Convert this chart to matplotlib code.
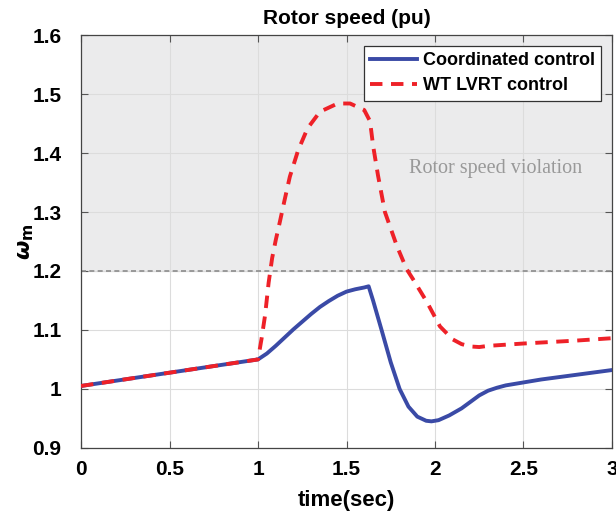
import numpy as np
import matplotlib
matplotlib.use("Agg")
import matplotlib.pyplot as plt

# values
t_coord = [0.0, 1.0, 1.05, 1.1, 1.15, 1.2, 1.25, 1.3, 1.35, 1.4, 1.45, 1.5,
           1.55, 1.6, 1.625, 1.65, 1.7, 1.75, 1.8, 1.85, 1.9, 1.95, 1.98,
           2.02, 2.08, 2.15, 2.2, 2.25, 2.3, 2.35, 2.4, 2.5, 2.6, 2.8, 3.0]
w_coord = [1.005, 1.050, 1.060, 1.073, 1.087, 1.101, 1.114, 1.127, 1.139, 1.149,
           1.158, 1.165, 1.169, 1.172, 1.174, 1.150, 1.098, 1.045, 1.000, 0.970,
           0.953, 0.946, 0.945, 0.947, 0.955, 0.967, 0.978, 0.989, 0.997, 1.002,
           1.006, 1.011, 1.016, 1.024, 1.032]

t_lvrt = [0.0, 1.0, 1.02, 1.04, 1.06, 1.08, 1.1, 1.124, 1.15, 1.18, 1.226,
          1.28, 1.35, 1.45, 1.52, 1.6, 1.633, 1.65, 1.678, 1.717, 1.785, 1.84,
          1.876, 1.955, 2.028, 2.1, 2.15, 2.2, 2.25, 2.3, 2.5, 2.8, 3.0]
w_lvrt = [1.005, 1.050, 1.085, 1.125, 1.180, 1.222, 1.252, 1.284, 1.320, 1.360,
          1.404, 1.442, 1.470, 1.484, 1.484, 1.473, 1.454, 1.413, 1.362, 1.300,
          1.242, 1.203, 1.186, 1.147, 1.106, 1.084, 1.076, 1.072, 1.071, 1.073,
          1.077, 1.082, 1.086]

speed_limit = 1.2
x_ticks = [0, 0.5, 1, 1.5, 2, 2.5, 3]
y_ticks = [0.9, 1.0, 1.1, 1.2, 1.3, 1.4, 1.5, 1.6]
x_labels = ["0", "0.5", "1", "1.5", "2", "2.5", "3"]
y_labels = ["0.9", "1", "1.1", "1.2", "1.3", "1.4", "1.5", "1.6"]

plt.rcParams['font.family'] = ['Liberation Sans', 'DejaVu Sans']
plt.rcParams['font.weight'] = 'bold'

fig = plt.figure(figsize=(6.16, 5.16), dpi=100)
ax = fig.add_axes([0.1315, 0.132, 0.862, 0.800])

ax.axhspan(speed_limit, 1.6, color='#ebebec', zorder=0)
ax.axhline(speed_limit, color='#8c8c8c', ls=(0, (3, 2)), lw=1.2, zorder=1)

ax.plot(t_coord, w_coord, color='#3a4aa6', lw=2.8, label='Coordinated control', zorder=3)
ax.plot(t_lvrt, w_lvrt, color='#ee2128', lw=2.8, ls=(0, (3.2, 2.2)),
        label='WT LVRT control', zorder=3)

ax.text(2.34, 1.374, 'Rotor speed violation', family='Liberation Serif',
        fontsize=14.5, color='#999999', ha='center', va='center', fontweight='normal')

ax.set_xlim(0, 3)
ax.set_ylim(0.9, 1.6)
ax.set_xticks(x_ticks)
ax.set_xticklabels(x_labels)
ax.set_yticks(y_ticks)
ax.set_yticklabels(y_labels)
ax.tick_params(direction='in', top=True, right=True, labelsize=15, length=5,
               color='#555555', width=0.8)
ax.tick_params(axis='y', pad=14)
ax.tick_params(axis='x', pad=9)
ax.grid(True, color='#dcdcdc', lw=0.8, zorder=0)
ax.set_axisbelow(True)
for s in ax.spines.values():
    s.set_color('#444444')
    s.set_linewidth(0.9)

ax.set_title('Rotor speed (pu)', fontsize=15, fontweight='bold', pad=8)
ax.set_xlabel('time(sec)', fontsize=16, fontweight='bold', labelpad=8)
ax.set_ylabel(r'$\omega_\mathbf{m}$', fontsize=16, labelpad=-3)

leg = ax.legend(loc='upper right', fontsize=13, frameon=True, fancybox=False,
                edgecolor='#333333', framealpha=1, borderpad=0.35,
                handlelength=2.6, handletextpad=0.3, labelspacing=0.45,
                borderaxespad=0.6)
leg.get_frame().set_linewidth(0.9)

fig.savefig('out.png', dpi=100)
